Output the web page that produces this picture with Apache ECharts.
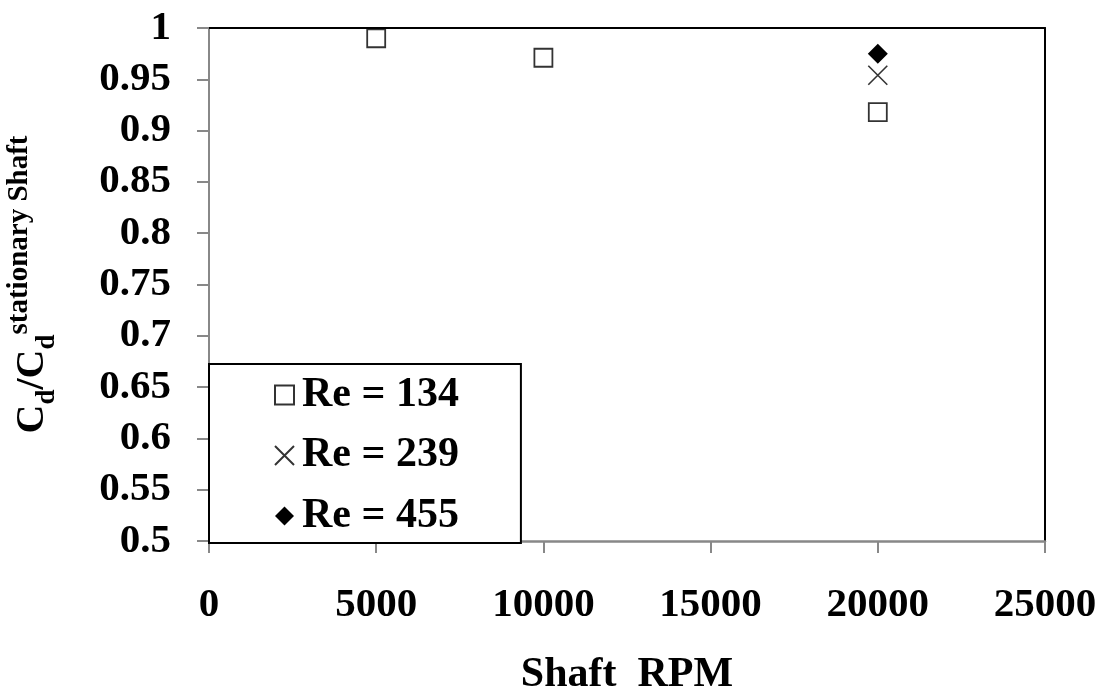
<!DOCTYPE html>
<html>
<head>
<meta charset="utf-8">
<title>Cd ratio vs Shaft RPM</title>
<script src="https://cdn.jsdelivr.net/npm/echarts@6/dist/echarts.min.js"></script>
<style>
  html, body { margin: 0; padding: 0; background: #fff; }
  #chart { width: 1104px; height: 692px; }
</style>
</head>
<body>
<div id="chart"></div>
<script>
// Measured drag-coefficient ratio against shaft speed, one series per Reynolds number
const seriesNames = ['Re = 134', 'Re = 239', 'Re = 455'];
const rpmRe134 = [5000, 10000, 20000];
const cdRe134 = [0.99, 0.971, 0.918];
const rpmRe239 = [20000];
const cdRe239 = [0.954];
const rpmRe455 = [20000];
const cdRe455 = [0.975];

// Axis ranges and tick spacing
const xMin = 0, xMax = 25000, xStep = 5000;
const yMin = 0.5, yMax = 1, yStep = 0.05;

const FONT = '"Liberation Serif", "Times New Roman", serif';
const AXIS_GRAY = '#888888';

function pairs(xs, ys) {
  return xs.map((x, i) => [x, ys[i]]);
}

const chart = echarts.init(document.getElementById('chart'), null, { renderer: 'canvas' });

const markerStyle = {
  color: '#ffffff',
  borderColor: '#000000',
  borderWidth: 1.8
};

chart.setOption({
  animation: false,
  backgroundColor: '#ffffff',
  grid: { left: 209, right: 59, top: 28, bottom: 151, containLabel: false, outerBoundsMode: 'none' },
  legend: {
    orient: 'vertical',
    left: 209,
    top: 364,
    padding: [10, 62, 6, 65],
    itemGap: 18.5,
    itemWidth: 19,
    itemHeight: 19,
    selectedMode: false,
    backgroundColor: '#ffffff',
    borderColor: '#000000',
    borderWidth: 2,
    borderRadius: 0,
    z: 10,
    textStyle: {
      fontFamily: FONT,
      fontWeight: 'bold',
      fontSize: 42,
      lineHeight: 40,
      color: '#000000',
      padding: [0, 0, 0, 3]
    },
    data: seriesNames
  },
  xAxis: [
    {
      type: 'value',
      position: 'bottom',
      min: xMin, max: xMax, interval: xStep,
      name: 'Shaft  RPM',
      nameLocation: 'middle',
      nameGap: 113,
      nameTextStyle: { fontFamily: FONT, fontWeight: 'bold', fontSize: 42, color: '#000000' },
      axisLine: { show: true, onZero: false, lineStyle: { color: AXIS_GRAY, width: 2.5 } },
      axisTick: { show: true, inside: false, length: 12, lineStyle: { color: AXIS_GRAY, width: 2 } },
      axisLabel: {
        margin: 44, fontFamily: FONT, fontWeight: 'bold', fontSize: 41, color: '#000000',
        formatter: (v) => String(v)
      },
      splitLine: { show: false }
    },
    {
      type: 'value',
      position: 'top',
      min: xMin, max: xMax,
      axisLine: { show: true, onZero: false, lineStyle: { color: '#000000', width: 2 } },
      axisTick: { show: false },
      axisLabel: { show: false },
      splitLine: { show: false }
    }
  ],
  yAxis: [
    {
      type: 'value',
      position: 'left',
      min: yMin, max: yMax, interval: yStep,
      name: '{m|C}{sub|d}{m|/C}{sub|d}{sup|stationary Shaft}',
      nameLocation: 'middle',
      nameRotate: 90,
      nameGap: 148,
      nameTextStyle: {
        fontFamily: FONT,
        fontWeight: 'bold',
        color: '#000000',
        rich: {
          m: { fontFamily: FONT, fontWeight: 'bold', fontSize: 40, lineHeight: 56, verticalAlign: 'middle', color: '#000000' },
          sub: { fontFamily: FONT, fontWeight: 'bold', fontSize: 27, lineHeight: 26, verticalAlign: 'bottom', color: '#000000' },
          sup: { fontFamily: FONT, fontWeight: 'bold', fontSize: 29, lineHeight: 46, verticalAlign: 'top', color: '#000000' }
        }
      },
      axisLine: { show: true, onZero: false, lineStyle: { color: AXIS_GRAY, width: 2 } },
      axisTick: { show: true, inside: false, length: 12, lineStyle: { color: AXIS_GRAY, width: 2 } },
      axisLabel: { margin: 38, fontFamily: FONT, fontWeight: 'bold', fontSize: 41, color: '#000000' },
      splitLine: { show: false }
    },
    {
      type: 'value',
      position: 'right',
      min: yMin, max: yMax,
      axisLine: { show: true, onZero: false, lineStyle: { color: '#000000', width: 2 } },
      axisTick: { show: false },
      axisLabel: { show: false },
      splitLine: { show: false }
    }
  ],
  series: [
    {
      name: seriesNames[0],
      type: 'scatter',
      xAxisIndex: 0, yAxisIndex: 0,
      symbol: 'rect',
      symbolSize: 18,
      itemStyle: markerStyle,
      emphasis: { disabled: true },
      data: pairs(rpmRe134, cdRe134)
    },
    {
      name: seriesNames[1],
      type: 'scatter',
      xAxisIndex: 0, yAxisIndex: 0,
      symbol: 'path://M0,0L10,10M10,0L0,10',
      symbolSize: 19,
      itemStyle: { color: 'transparent', borderColor: '#000000', borderWidth: 1.6 },
      emphasis: { disabled: true },
      data: pairs(rpmRe239, cdRe239)
    },
    {
      name: seriesNames[2],
      type: 'scatter',
      xAxisIndex: 0, yAxisIndex: 0,
      symbol: 'diamond',
      symbolSize: 20,
      itemStyle: { color: '#000000', borderColor: '#000000', borderWidth: 0, opacity: 1 },
      emphasis: { disabled: true },
      data: pairs(rpmRe455, cdRe455)
    }
  ]
});
</script>
</body>
</html>
